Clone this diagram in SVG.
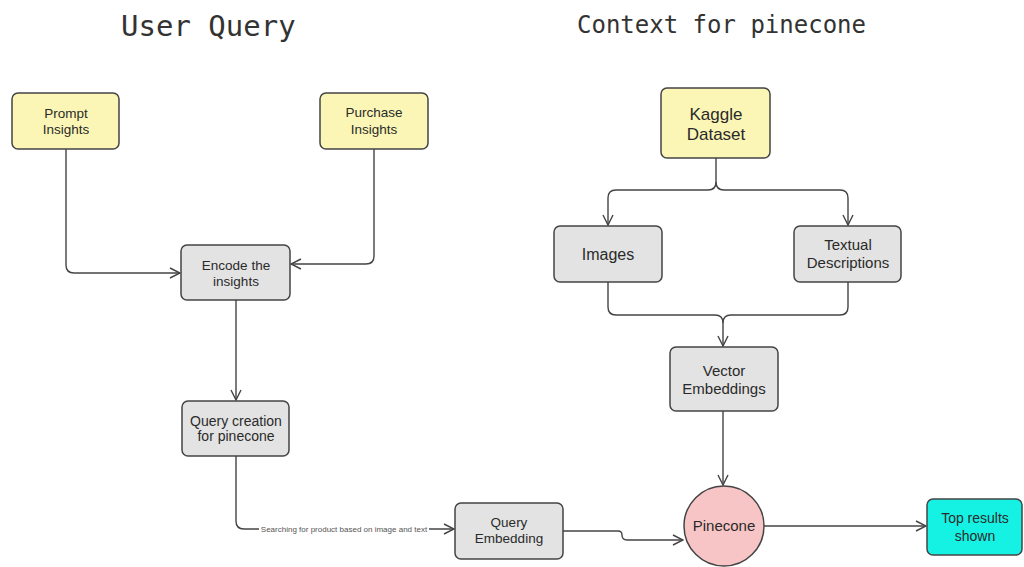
<svg xmlns="http://www.w3.org/2000/svg" width="1024" height="567" viewBox="0 0 1024 567">
<defs>
<marker id="arr" viewBox="0 0 12 12" refX="11" refY="6" markerWidth="12" markerHeight="12" markerUnits="userSpaceOnUse" orient="auto">
<path d="M1,1 L11,6 L1,11" fill="none" stroke="#444" stroke-width="1.4"/>
</marker>
<style>
.title{font-family:"DejaVu Sans Mono",monospace;fill:#333}
.box{stroke:#444;stroke-width:1.5}
.yel{fill:#fbf6b6}
.gry{fill:#e3e3e3}
.t{font-family:"Liberation Sans",Arial,sans-serif;fill:#2a2a2a;text-anchor:middle}
.c{fill:none;stroke:#444;stroke-width:1.4}
</style>
</defs>
<rect width="1024" height="567" fill="#ffffff"/>
<text class="title" x="121" y="36" font-size="29">User Query</text>
<text class="title" x="577" y="33" font-size="24">Context for pinecone</text>

<g id="connectors">
<path class="c" d="M66,149 V265 Q66,273 74,273 H180" marker-end="url(#arr)"/>
<path class="c" d="M374,149 V256 Q374,264 366,264 H291" marker-end="url(#arr)"/>
<path class="c" d="M236,300 V400" marker-end="url(#arr)"/>
<path class="c" d="M236,456 V521 Q236,529 244,529 H259 M429,529 H454" marker-end="url(#arr)"/>
<text x="344" y="531.5" font-family="Liberation Sans,Arial,sans-serif" font-size="8" fill="#555" text-anchor="middle">Searching for product based on image and text</text>
<path class="c" d="M716,158 V182 Q716,190 708,190 H616 Q608,190 608,198 V225" marker-end="url(#arr)"/>
<path class="c" d="M716,182 Q716,190 724,190 H840 Q848,190 848,198 V225" marker-end="url(#arr)"/>
<path class="c" d="M608,282 V307 Q608,315 616,315 H715 Q723,315 723,323 V346" marker-end="url(#arr)"/>
<path class="c" d="M848,282 V307 Q848,315 840,315 H731 Q723,315 723,323"/>
<path class="c" d="M723,411 V485" marker-end="url(#arr)"/>
<path class="c" d="M563,531 H618 Q622,531 622,535 Q622,540 627,540 H683" marker-end="url(#arr)"/>
<path class="c" d="M764,526 H926" marker-end="url(#arr)"/>
</g>

<g id="prompt-insights">
<rect class="box yel" x="12" y="93" width="107" height="56" rx="6"/>
<text class="t" font-size="13.5" x="66" y="118">Prompt</text>
<text class="t" font-size="13.5" x="66" y="134">Insights</text>
</g>
<g id="purchase-insights">
<rect class="box yel" x="320" y="93" width="108" height="56" rx="6"/>
<text class="t" font-size="13.5" x="374" y="117">Purchase</text>
<text class="t" font-size="13.5" x="374" y="134">Insights</text>
</g>
<g id="encode-insights">
<rect class="box gry" x="181" y="245" width="109" height="55" rx="6"/>
<text class="t" font-size="13.5" x="236" y="270">Encode the</text>
<text class="t" font-size="13.5" x="236" y="286">insights</text>
</g>
<g id="query-creation">
<rect class="box gry" x="182" y="401" width="107" height="55" rx="6"/>
<text class="t" font-size="14" x="236" y="426">Query creation</text>
<text class="t" font-size="14" x="236" y="441">for pinecone</text>
</g>
<g id="query-embedding">
<rect class="box gry" x="455" y="503" width="108" height="56" rx="6"/>
<text class="t" font-size="13.5" x="509" y="527">Query</text>
<text class="t" font-size="13.5" x="509" y="543">Embedding</text>
</g>
<g id="kaggle-dataset">
<rect class="box yel" x="661" y="88" width="109" height="70" rx="6"/>
<text class="t" font-size="17" x="716" y="120">Kaggle</text>
<text class="t" font-size="17" x="716" y="140">Dataset</text>
</g>
<g id="images">
<rect class="box gry" x="554" y="226" width="108" height="56" rx="6"/>
<text class="t" font-size="16" x="608" y="260">Images</text>
</g>
<g id="textual-descriptions">
<rect class="box gry" x="794" y="226" width="107" height="56" rx="6"/>
<text class="t" font-size="15" x="848" y="250">Textual</text>
<text class="t" font-size="15" x="848" y="268">Descriptions</text>
</g>
<g id="vector-embeddings">
<rect class="box gry" x="670" y="347" width="108" height="64" rx="6"/>
<text class="t" font-size="15" x="724" y="376">Vector</text>
<text class="t" font-size="15" x="724" y="394">Embeddings</text>
</g>
<g id="pinecone">
<circle class="box" cx="724" cy="526" r="40" fill="#f7c5c5"/>
<text class="t" font-size="15" x="724" y="531">Pinecone</text>
</g>
<g id="top-results">
<rect class="box" x="927" y="499" width="95" height="56" rx="6" fill="#15f2e4"/>
<text class="t" font-size="14" x="975" y="523">Top results</text>
<text class="t" font-size="14" x="975" y="541">shown</text>
</g>
</svg>
